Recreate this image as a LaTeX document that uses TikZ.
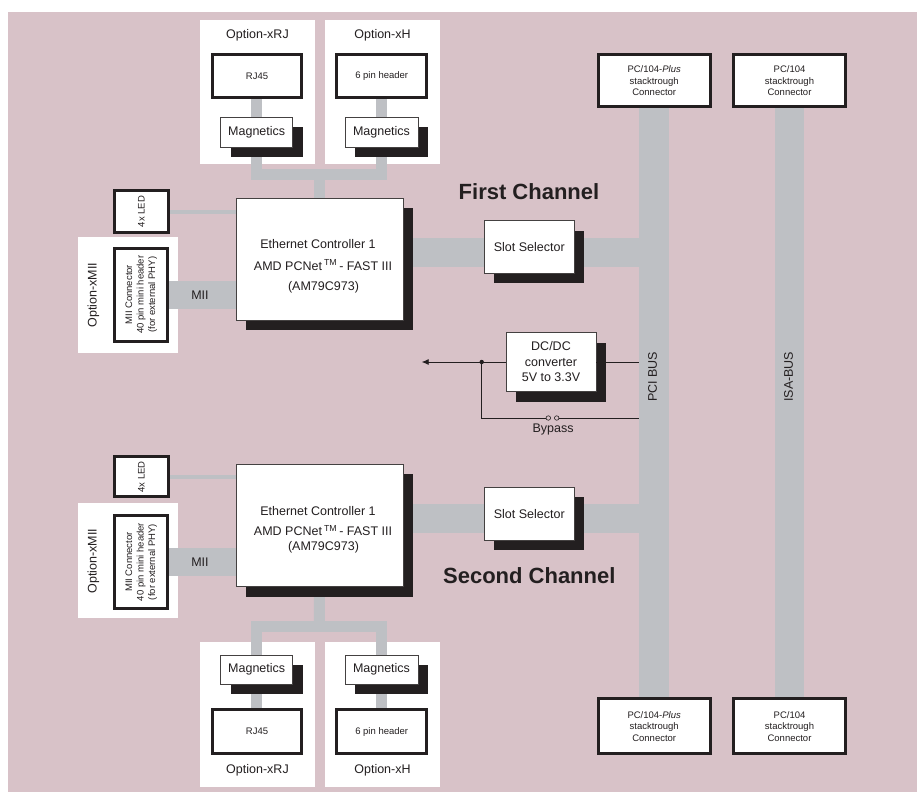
\documentclass[tikz,border=0pt]{standalone}
\usepackage{fontspec}
\setmainfont{Liberation Sans}
\usetikzlibrary{shadows,arrows.meta,calc}
\definecolor{pinkbg}{RGB}{216,194,200}
\definecolor{graybar}{RGB}{190,192,196}
\definecolor{ink}{RGB}{35,31,32}
\pgfdeclarelayer{bg}
\pgfdeclarelayer{bars}
\pgfsetlayers{bg,bars,main}
\newcommand{\fsz}[2]{\fontsize{#1}{#2}\selectfont}
\tikzset{
  optbox/.style={fill=white, draw=none, minimum width=115pt, minimum height=144pt, inner sep=0pt},
  thickbox/.style={draw=ink, line width=3pt, fill=white, inner sep=0pt, align=center, font=\fsz{9.5}{11.6}},
  shbox/.style={draw=ink!85, line width=0.8pt, fill=white, inner sep=0pt, align=center, font=\fsz{12.5}{15.5},
    drop shadow={shadow xshift=10pt, shadow yshift=-10pt, opacity=1, fill=ink}},
  bus/.style={draw=graybar, line width=#1},
  wire/.style={draw=ink, line width=0.8pt},
  lbl/.style={inner sep=0pt, font=\fsz{12.5}{14}},
  head/.style={inner sep=0pt, font=\fsz{22}{24}\bfseries},
  sw/.style={circle, draw=ink, line width=0.6pt, fill=pinkbg, inner sep=0pt, minimum size=4.5pt},
}
\begin{document}
\begin{tikzpicture}[x=1pt, y=-1pt, text=ink]
\useasboundingbox (0,0) rectangle (917,792);
\begin{pgfonlayer}{bg}
  \fill[pinkbg] (8,12) rectangle (917,792);
  \node[optbox] (oRJa) at (257.5,92) {};
  \node[optbox] (oHa) at (382.5,92) {};
  \node[optbox, minimum width=100pt, minimum height=115.4pt] (oMa) at (128,295) {};
  \node[optbox, minimum height=145pt] (oRJb) at (257.5,714.5) {};
  \node[optbox, minimum height=145pt] (oHb) at (382.5,714.5) {};
  \node[optbox, minimum width=100pt, minimum height=114.7pt] (oMb) at (128,560.7) {};
\end{pgfonlayer}

% option labels
\node[lbl] (tRJa) at (257.5,35) {Option-xRJ};
\node[lbl] (tHa) at (382.5,35) {Option-xH};
\node[lbl] (tRJb) at (257.5,770) {Option-xRJ};
\node[lbl] (tHb) at (382.5,770) {Option-xH};
\node[lbl, rotate=90] (tMa) at (93.3,295) {Option-xMII};
\node[lbl, rotate=90] (tMb) at (93.3,561) {Option-xMII};

% thick-bordered connector boxes
\node[thickbox, minimum width=89.6pt, minimum height=43pt] (rja) at (257,76) {RJ45};
\node[thickbox, minimum width=90pt, minimum height=43pt] (hda) at (381.7,76) {6 pin header};
\node[thickbox, minimum width=89.6pt, minimum height=43.7pt] (rjb) at (257,731.7) {RJ45};
\node[thickbox, minimum width=90pt, minimum height=43.7pt] (hdb) at (381.7,731.7) {6 pin header};
\node[thickbox, minimum width=54pt, minimum height=41.7pt] (leda) at (141.3,211.7) {\rotatebox{90}{4x LED}};
\node[thickbox, minimum width=54pt, minimum height=40.3pt] (ledb) at (141.3,476.7) {\rotatebox{90}{4x LED}};
\node[thickbox, minimum width=53pt, minimum height=93pt] (miia) at (141.3,294.7)
  {\rotatebox{90}{\begin{tabular}{@{}c@{}}MII Connector\\40 pin mini header\\(for external PHY)\end{tabular}}};
\node[thickbox, minimum width=53pt, minimum height=93pt] (miib) at (141.3,562)
  {\rotatebox{90}{\begin{tabular}{@{}c@{}}MII Connector\\40 pin mini header\\(for external PHY)\end{tabular}}};
\node[thickbox, minimum width=112pt, minimum height=52pt] (pcpa) at (654.2,80.8) {PC/104-\textit{Plus}\\stacktrough\\Connector};
\node[thickbox, minimum width=112.6pt, minimum height=52pt] (pca) at (789.5,80.8) {PC/104\\stacktrough\\Connector};
\node[thickbox, minimum width=112pt, minimum height=54.7pt] (pcpb) at (654.2,726.2) {PC/104-\textit{Plus}\\stacktrough\\Connector};
\node[thickbox, minimum width=112.6pt, minimum height=54.7pt] (pcb) at (789.5,726.2) {PC/104\\stacktrough\\Connector};

% shadowed boxes
\node[shbox, minimum width=72pt, minimum height=30pt] (maga) at (256.7,132) {Magnetics};
\node[shbox, minimum width=73pt, minimum height=30pt] (mha) at (381.5,132) {Magnetics};
\node[shbox, minimum width=72pt, minimum height=29pt] (magb) at (256.7,669.5) {Magnetics};
\node[shbox, minimum width=73pt, minimum height=29pt] (mhb) at (381.5,669.5) {Magnetics};
\node[shbox, minimum width=167pt, minimum height=122pt] (c1) at (319.5,259) {};
\node[shbox, minimum width=167pt, minimum height=122.7pt] (c2) at (319.4,525.3) {};
\node[shbox, minimum width=90pt, minimum height=52.6pt] (s1) at (529.3,247) {Slot Selector};
\node[shbox, minimum width=90pt, minimum height=52.7pt] (s2) at (529.3,513.7) {Slot Selector};
\node[shbox, minimum width=90pt, minimum height=59pt] (dc) at (551,362) {DC/DC\\converter\\5V to 3.3V};

% controller texts
\node[lbl] (c1a) at (318,244.3) {Ethernet Controller 1};
\node[lbl] (c1b) at (323,265) {AMD PCNet\,\textsuperscript{TM}\,- FAST III};
\node[lbl] (c1c) at (323.5,287.7) {(AM79C973)};
\node[lbl] (c2a) at (318,510.7) {Ethernet Controller 1};
\node[lbl] (c2b) at (323,530.7) {AMD PCNet\,\textsuperscript{TM}\,- FAST III};
\node[lbl] (c2c) at (323.5,547.3) {(AM79C973)};

% headings and bus labels
\node[head] (h1) at (529,192) {First Channel};
\node[head] (h2) at (529.3,576) {Second Channel};
\node[lbl, rotate=90] (pcil) at (652.5,376.7) {PCI BUS};
\node[lbl, rotate=90] (isal) at (788.5,376.7) {ISA-BUS};
\node[lbl] (miil1) at (200,295) {MII};
\node[lbl] (miil2) at (200,562) {MII};

% coordinates
\coordinate (pciL) at (639.3,0);
\coordinate (ja) at (319.5,174);
\coordinate (jb) at (319.5,626.5);
\coordinate (bra) at (0,252.5);
\coordinate (brb) at (0,518.5);
\coordinate (tip) at (421.7,362);
\coordinate (jn) at (481.7,362);

% gray buses
\begin{pgfonlayer}{bars}
  \draw[bus=29.7pt] (pcpa.south) -- (pcpb.north);
  \draw[bus=29.7pt] (pca.south) -- (pcb.north);
  \draw[bus=11pt] (maga.north) -- (maga.north |- rja.south);
  \draw[bus=11pt] (mha.north) -- (mha.north |- hda.south);
  \draw[bus=11pt, line join=miter] (maga.south) |- (ja) -| (mha.south);
  \draw[bus=11pt] (ja) -- (c1.north);
  \draw[bus=11pt] (magb.south) -- (magb.south |- rjb.north);
  \draw[bus=11pt] (mhb.south) -- (mhb.south |- hdb.north);
  \draw[bus=11pt, line join=miter] (magb.north) |- (jb) -| (mhb.north);
  \draw[bus=11pt] (jb) -- (c2.south);
  \draw[bus=4pt] (leda.east) -- (leda.east -| c1.west);
  \draw[bus=4pt] (ledb.east) -- (ledb.east -| c2.west);
  \draw[bus=28pt] (miia.east) -- (miia.east -| c1.west);
  \draw[bus=28pt] (miib.east) -- (miib.east -| c2.west);
  \draw[bus=29pt] (c1.east |- bra) -- (pciL |- bra);
  \draw[bus=29pt] (c2.east |- brb) -- (pciL |- brb);
\end{pgfonlayer}

% power wiring
\node[sw] (sw1) at (548.3,418) {};
\node[sw] (sw2) at (556.7,418) {};
\draw[wire] (dc.west |- jn) -- (jn);
\draw[wire, -{Latex[length=7pt,width=6pt]}] (jn) -- (tip);
\fill[ink] (jn) circle[radius=2.2pt];
\draw[wire] (dc.east) -- (dc.east -| pciL);
\draw[wire] (jn) |- (sw1.west);
\draw[wire] (sw2.east) -- (sw2.east -| pciL);
\node[lbl] (byp) at (553,429) {Bypass};
\end{tikzpicture}
\end{document}
